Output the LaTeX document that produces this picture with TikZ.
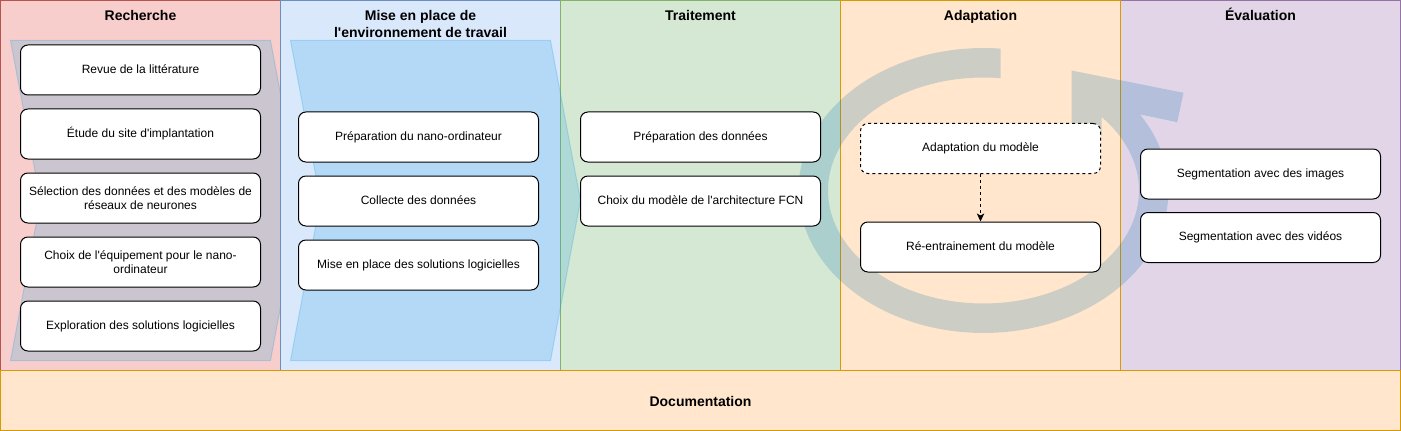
\documentclass[tikz,border=0pt]{standalone}
\usepackage{fontspec}
\setmainfont{Liberation Sans}
\usetikzlibrary{arrows.meta}
\newcommand{\sq}{\textquotesingle}
\definecolor{redf}{HTML}{F8CECC}\definecolor{redd}{HTML}{B85450}
\definecolor{bluf}{HTML}{DAE8FC}\definecolor{blud}{HTML}{6C8EBF}
\definecolor{grnf}{HTML}{D5E8D4}\definecolor{grnd}{HTML}{82B366}
\definecolor{orgf}{HTML}{FFE6CC}\definecolor{orgd}{HTML}{D79B00}
\definecolor{purf}{HTML}{E1D5E7}\definecolor{purd}{HTML}{9673A6}
\definecolor{stepblue}{HTML}{1BA1E2}
\definecolor{arcblue}{HTML}{006EAF}
\tikzset{
  lane/.style={line width=0.75pt},
  ttl/.style={font=\fontsize{10.5}{12.4}\selectfont\bfseries, align=center, inner sep=0pt},
  ttlone/.style={ttl, anchor=base},
  boxbase/.style={draw=black, fill=white, rounded corners=5.5pt, line width=0.75pt,
    minimum width=180pt, minimum height=37.5pt, inner sep=2pt,
    font=\fontsize{9}{10.5}\selectfont, align=center},
  box/.style={boxbase, text height=6.6pt, text depth=1.9pt},
  dashbox/.style={box, dash pattern=on 2.25pt off 2.25pt},
  stepshape/.style={fill=stepblue, fill opacity=0.2, draw=stepblue, draw opacity=0.25, line width=0.75pt},
  arcshape/.style={fill=arcblue, fill opacity=0.2},
  conn/.style={line width=0.75pt, dash pattern=on 2.25pt off 2.25pt,
    -{Stealth[length=6pt,width=5.5pt,inset=1.5pt]}},
}
\begin{document}
\begin{tikzpicture}[x=0.75pt,y=-0.75pt]
\useasboundingbox (-0.5,-0.5) rectangle (1400.5,430.5);
% lanes
\draw[lane, fill=redf, draw=redd] (0,0) rectangle (280,370);
\draw[stepshape] (10,40) -- (270,40) -- (300,200) -- (270,360) -- (10,360) -- (40,200) -- cycle;
\draw[lane, fill=bluf, draw=blud] (280,0) rectangle (560,370);
\draw[lane, fill=grnf, draw=grnd] (560,0) rectangle (840,370);
\draw[stepshape] (290,40) -- (550,40) -- (580,200) -- (550,360) -- (290,360) -- (320,200) -- cycle;
\draw[lane, fill=purf, draw=purd] (1120,0) rectangle (1400,370);
\draw[lane, fill=orgf, draw=orgd] (840,0) rectangle (1120,370);
\draw[lane, fill=orgf, draw=orgd] (0,370) rectangle (1400,430);
% titles
\node[ttlone] (t1) at (140,20) {Recherche};
\node[ttl] (t2) at (420,23.3) {Mise en place de\\l\sq environnement de travail};
\node[ttlone] (t3) at (700,20) {Traitement};
\node[ttlone] (t4) at (980,20) {Adaptation};
\node[ttlone] (t5) at (1260,20) {Évaluation};
\node[ttlone] (doc) at (700,405.5) {Documentation};
% circular arrow
\fill[arcshape] (1071,70) -- (1183,92.3) -- (1176.7,121.7) -- (1140,114)
  -- plot[domain=392.2:84.7, samples=140] ({983+185*cos(\x)},{190-142.5*sin(\x)})
  -- plot[domain=83.7:400.3, samples=140] ({983+155.5*cos(\x)},{190-113*sin(\x)})
  -- (1101,117.3) -- (1101,135) -- (1071,135) -- cycle;
% boxes lane 1
\node[box] (r1) at (140,69.5) {Revue de la littérature};
\node[box] (r2) at (140,133.5) {Étude du site d\sq implantation};
\node[boxbase] (r3) at (140,197.5) {Sélection des données et des modèles de\\réseaux de neurones};
\node[boxbase] (r4) at (140,261.5) {Choix de l\sq équipement pour le nano-\\ordinateur};
\node[box] (r5) at (140,325.5) {Exploration des solutions logicielles};
% lane 2
\node[box] (m1) at (418,136.5) {Préparation du nano-ordinateur};
\node[box] (m2) at (418,200.5) {Collecte des données};
\node[box] (m3) at (418,264.5) {Mise en place des solutions logicielles};
% lane 3
\node[box] (p1) at (700,136.5) {Préparation des données};
\node[box] (p2) at (700,200.5) {Choix du modèle de l\sq architecture FCN};
% lane 4
\node[dashbox] (a1) at (980,148) {Adaptation du modèle};
\node[box] (a2) at (980,246.5) {Ré-entrainement du modèle};
\draw[conn] (a1) -- (a2);
% lane 5
\node[box] (e1) at (1260,173.5) {Segmentation avec des images};
\node[box] (e2) at (1260,237) {Segmentation avec des vidéos};
\end{tikzpicture}
\end{document}
